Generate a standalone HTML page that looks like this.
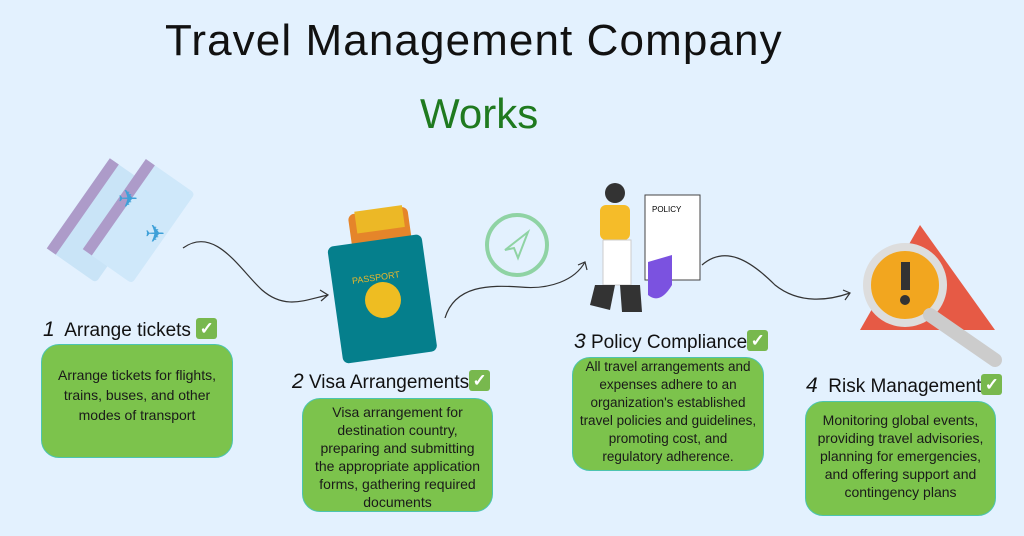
<!DOCTYPE html>
<html><head><meta charset="utf-8"><style>
body{margin:0;width:1024px;height:536px;background:#e3f1fe;position:relative;overflow:hidden;font-family:"Liberation Sans",sans-serif}
.t{position:absolute;white-space:nowrap;color:#111}
.box{position:absolute;background:#7cc34c;border:1px solid #4cc4b0;border-radius:18px;box-sizing:border-box;text-align:center;font-size:14px;line-height:18px;color:#1a1a1a;padding-top:4px}
.h{position:absolute;font-size:19px;color:#111;white-space:nowrap;line-height:24px}
.ck{display:inline-block;width:21px;height:21px;background:#78b84e;border-radius:3px;color:#fff;font-size:17px;line-height:21px;text-align:center;vertical-align:top;font-weight:bold}
</style></head><body>
<div class="t" style="left:165px;top:16px;font-size:44px;letter-spacing:1.1px">Travel Management Company</div>
<div class="t" style="left:420px;top:90px;font-size:42px;color:#1f7a1f">Works</div>

<svg width="1024" height="536" style="position:absolute;left:0;top:0">
<g transform="translate(118,225) rotate(-55)">
<rect x="-60" y="-45" width="110" height="60" rx="4" fill="#c9e4f7"/>
<rect x="-60" y="-45" width="110" height="11" fill="#ad9bc9"/>
<rect x="-40" y="-15" width="110" height="60" rx="4" fill="#cfe8fa"/>
<rect x="-40" y="-15" width="110" height="11" fill="#ad9bc9"/>
</g>
<text x="118" y="207" font-size="24" fill="#3ea0d8">✈</text>
<text x="145" y="242" font-size="24" fill="#3ea0d8">✈</text>
<rect x="355" y="210" width="60" height="110" rx="6" fill="#e5852a" transform="rotate(-8 385 265)"/>
<rect x="362" y="208" width="48" height="22" fill="#ecb826" transform="rotate(-8 385 265)"/>
<rect x="335" y="240" width="95" height="118" rx="6" fill="#057f8c" transform="rotate(-8 382 300)"/>
<text x="355" y="280" font-size="9" fill="#e8b72b" transform="rotate(-8 382 300)">PASSPORT</text>
<circle cx="383" cy="300" r="18" fill="#eebd22"/>
<circle cx="517" cy="245" r="30" fill="none" stroke="#8fd3a4" stroke-width="4"/>
<path d="M505 250 L528 232 L518 258 L514 248 Z" fill="none" stroke="#8fd3a4" stroke-width="2"/>
<rect x="645" y="195" width="55" height="85" fill="#fff" stroke="#444"/>
<text x="652" y="212" font-size="8">POLICY</text>
<circle cx="615" cy="193" r="10" fill="#333"/>
<rect x="600" y="205" width="30" height="35" rx="6" fill="#f5bc29"/>
<rect x="603" y="240" width="28" height="45" fill="#fff" stroke="#ccc"/>
<path d="M595 285 L615 285 L610 310 L590 305Z M620 285 L640 285 L642 312 L622 312Z" fill="#333"/>
<path d="M648 262 L672 255 L672 285 Q660 305 648 295Z" fill="#7b52e0"/>
<path d="M920 225 L995 330 L860 330Z" fill="#e65a45"/>
<circle cx="905" cy="285" r="38" fill="#f2a61f" stroke="#ddd" stroke-width="8"/>
<rect x="901" y="262" width="9" height="28" fill="#333"/><circle cx="905" cy="300" r="5" fill="#333"/>
<path d="M930 315 L995 360" stroke="#ccc" stroke-width="14" stroke-linecap="round"/>
<g fill="none" stroke="#333" stroke-width="1.2">
<path d="M183 248 C215 225 240 270 262 290 C285 310 305 300 328 295"/>
<path d="M320 290 L328 295 L321 301"/>
<path d="M445 318 C455 285 490 285 520 287 C550 290 575 280 585 262"/>
<path d="M578 265 L585 262 L587 270"/>
<path d="M702 265 C725 245 750 260 775 285 C800 305 830 300 850 293"/>
<path d="M843 290 L850 293 L845 300"/>
</g>
</svg>

<div class="h" style="left:43px;top:318px"><i style="font-size:21px">1</i>&nbsp; Arrange tickets <span class="ck">✓</span></div>
<div class="box" style="left:41px;top:344px;width:192px;height:114px;line-height:20px;padding-top:20px">Arrange tickets for flights,<br>trains, buses, and other<br>modes of transport</div>

<div class="h" style="left:292px;top:370px"><i style="font-size:21px">2</i> Visa Arrangements<span class="ck">✓</span></div>
<div class="box" style="left:302px;top:398px;width:191px;height:114px">Visa arrangement for<br>destination country,<br>preparing and submitting<br>the appropriate application<br>forms, gathering required<br>documents</div>

<div class="h" style="left:574px;top:330px"><i style="font-size:21px">3</i> Policy Compliance<span class="ck">✓</span></div>
<div class="box" style="left:572px;top:357px;width:192px;height:114px;padding-top:0;font-size:13.5px">All travel arrangements and<br>expenses adhere to an<br>organization's established<br>travel policies and guidelines,<br>promoting cost, and<br>regulatory adherence.</div>

<div class="h" style="left:806px;top:374px"><i style="font-size:21px">4</i>&nbsp; Risk Management<span class="ck">✓</span></div>
<div class="box" style="left:805px;top:401px;width:191px;height:115px;padding-top:9px">Monitoring global events,<br>providing travel advisories,<br>planning for emergencies,<br>and offering support and<br>contingency plans</div>
</body></html>
